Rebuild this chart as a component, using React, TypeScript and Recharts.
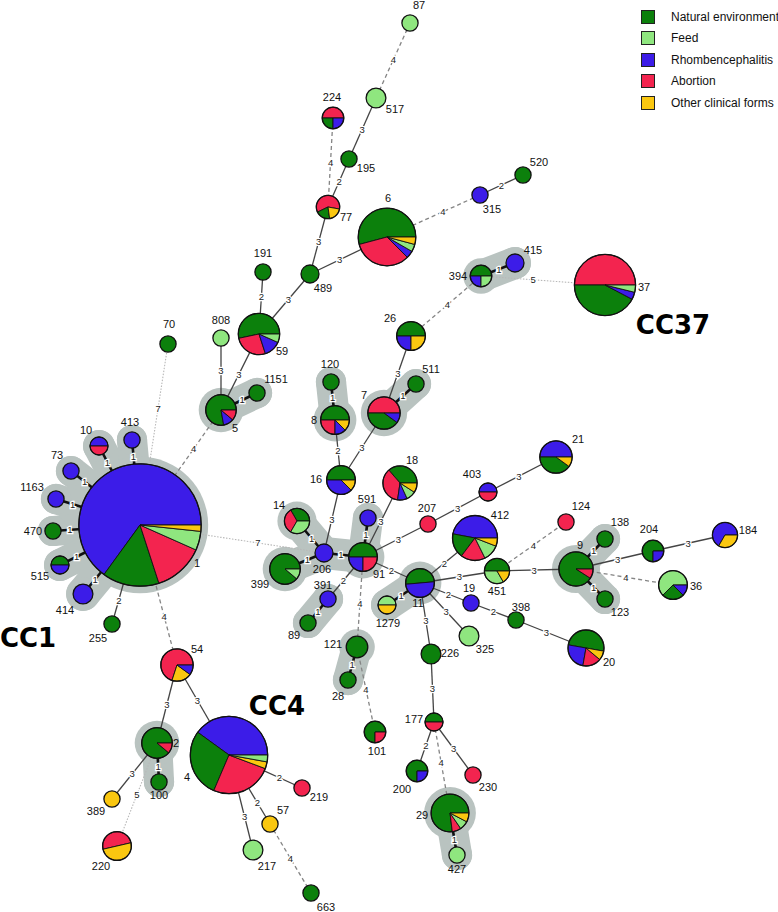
import React from 'react';
import { ScatterChart, Scatter, XAxis, YAxis, Sector, Legend } from 'recharts';

const W = 778;
const H = 912;
const FONT = "'Liberation Sans', Arial, sans-serif";

// categories of isolate origin
const CATEGORY_KEYS = ['G', 'F', 'B', 'R', 'Y'];
const CATEGORY_NAMES = ['Natural environment', 'Feed', 'Rhombencephalitis', 'Abortion', 'Other clinical forms'];

// sequence types: id, layout x, layout y, isolates per category (slice order)
const NODES: [string, number, number, string][] = [
  ['87', 410, 23, 'F1'],
  ['517', 376, 98, 'F3'],
  ['224', 333, 118, 'R2 G1 B1'],
  ['195', 349, 159, 'G1'],
  ['77', 328, 207, 'R3 G1 Y1'],
  ['315', 480, 195, 'B1'],
  ['520', 523, 175, 'G1'],
  ['6', 387, 237, 'G13 R8 B1 F1 Y1'],
  ['489', 310, 274, 'G2'],
  ['191', 263, 272, 'G1'],
  ['59', 259, 334, 'G8 R4 B2 F1'],
  ['808', 221, 338, 'F1'],
  ['70', 168, 344, 'G1'],
  ['5', 221, 410, 'G7 B1 R1'],
  ['1151', 257, 393, 'G1'],
  ['10', 99, 446, 'B1 R1'],
  ['413', 132, 440, 'B1'],
  ['73', 71, 471, 'B1'],
  ['1163', 56, 499, 'B1'],
  ['470', 53, 531, 'G1'],
  ['515', 60, 565, 'G1 B1'],
  ['414', 83, 594, 'B3'],
  ['1', 140, 525, 'B39 G9 R8 F3 Y1'],
  ['255', 112, 624, 'G1'],
  ['54', 177, 665, 'R7 Y2 B1'],
  ['4', 229, 755, 'B14 G10 R9 Y1 F1'],
  ['2', 157, 743, 'G8 R1'],
  ['100', 159, 782, 'G1'],
  ['389', 112, 799, 'Y1'],
  ['220', 117, 846, 'R4 Y4'],
  ['217', 253, 850, 'F3'],
  ['57', 270, 824, 'Y1'],
  ['219', 302, 788, 'R1'],
  ['663', 311, 893, 'G1'],
  ['101', 375, 732, 'G3 R1'],
  ['177', 434, 722, 'G1 R1'],
  ['200', 417, 771, 'G3 B1'],
  ['230', 473, 775, 'R1'],
  ['29', 450, 813, 'G10 R1 F1 Y1'],
  ['427', 457, 855, 'F1'],
  ['28', 348, 680, 'G1'],
  ['121', 357, 647, 'G4'],
  ['16', 341, 480, 'G4 B3 Y1'],
  ['18', 400, 483, 'G4 R4 B1 F1 Y1'],
  ['14', 297, 521, 'G2 R2 F2'],
  ['206', 324, 553, 'B2'],
  ['399', 285, 569, 'G8 F1'],
  ['591', 368, 518, 'B1'],
  ['91', 363, 557, 'G4 B2 R2'],
  ['207', 428, 524, 'R1'],
  ['403', 488, 492, 'B1 R1'],
  ['412', 475, 538, 'B8 G3 R3 F2 Y1'],
  ['391', 328, 599, 'B1'],
  ['89', 308, 623, 'G1'],
  ['11', 420, 583, 'G4 B4'],
  ['1279', 387, 605, 'F1 Y1'],
  ['451', 497, 571, 'G3 F2 Y1'],
  ['19', 471, 603, 'B1'],
  ['325', 469, 636, 'F3'],
  ['226', 431, 654, 'G3'],
  ['398', 516, 620, 'G1'],
  ['21', 556, 457, 'B5 G4 Y1'],
  ['124', 566, 522, 'R1'],
  ['138', 605, 539, 'G1'],
  ['9', 576, 569, 'G10 R1'],
  ['123', 605, 599, 'G1'],
  ['204', 653, 551, 'G3 B1'],
  ['184', 725, 535, 'B4 Y2'],
  ['36', 673, 585, 'F5 G2 B1'],
  ['20', 586, 648, 'G6 B3 R2 Y1'],
  ['26', 411, 336, 'G4 B2 Y2'],
  ['394', 481, 276, 'G2 B1 F1'],
  ['415', 515, 263, 'B2'],
  ['37', 605, 285, 'R13 G11 B1 F1'],
  ['7', 384, 413, 'R5 G4 B1'],
  ['511', 416, 384, 'G1'],
  ['120', 331, 382, 'G1'],
  ['8', 335, 420, 'G4 R2 B1 Y1'],
];

// minimum spanning tree links: from, to, allele distance
const EDGES: [string, string, number][] = [
  ['87', '517', 4], ['517', '195', 3], ['195', '77', 2], ['224', '77', 4], ['77', '489', 3],
  ['489', '6', 3], ['6', '315', 4], ['315', '520', 2], ['489', '59', 3], ['191', '59', 2],
  ['59', '5', 3], ['808', '5', 3], ['5', '1151', 1], ['5', '1', 4], ['70', '1', 7],
  ['1', '10', 1], ['1', '413', 1], ['1', '73', 1], ['1', '1163', 1], ['1', '470', 1],
  ['1', '515', 1], ['1', '414', 1], ['1', '255', 2], ['1', '54', 4], ['1', '206', 7],
  ['54', '2', 3], ['54', '4', 3], ['2', '100', 1], ['2', '389', 3], ['2', '220', 5],
  ['4', '219', 2], ['4', '57', 2], ['4', '217', 3], ['57', '663', 4],
  ['206', '14', 1], ['206', '399', 1], ['206', '91', 1], ['206', '16', 3],
  ['16', '8', 2], ['8', '120', 1], ['16', '7', 3], ['7', '511', 1], ['7', '26', 3],
  ['26', '394', 4], ['394', '415', 1], ['394', '37', 5],
  ['91', '591', 1], ['91', '18', 3], ['91', '207', 3], ['207', '403', 3], ['403', '21', 3],
  ['91', '391', 2], ['391', '89', 1], ['91', '121', 4], ['121', '28', 1], ['121', '101', 4],
  ['91', '11', 2], ['11', '412', 2], ['11', '1279', 1], ['11', '451', 3], ['11', '19', 2],
  ['11', '325', 3], ['11', '226', 3], ['226', '177', 3], ['177', '200', 2], ['177', '230', 3],
  ['177', '29', 4], ['29', '427', 1], ['19', '398', 2], ['398', '20', 3],
  ['451', '9', 3], ['451', '124', 4], ['9', '138', 1], ['9', '123', 1], ['9', '204', 3],
  ['204', '184', 3], ['9', '36', 4],
];

const CLUSTERS: [string, number, number][] = [
  ['CC1', 28, 638],
  ['CC4', 277, 706],
  ['CC37', 673, 325],
];

// label placement relative to node centre
const LABEL_OFFSET: Record<string, [number, number]> = {
  '87': [9, -18], '517': [19, 11], '224': [-1, -21], '195': [17, 9], '77': [18, 10],
  '315': [12, 14], '520': [16, -13], '6': [1, -39], '489': [13, 14], '191': [0, -19],
  '59': [23, 17], '808': [0, -18], '70': [1, -20], '5': [14, 18], '1151': [19, -14],
  '10': [-13, -16], '413': [-2, -18], '73': [-14, -16], '1163': [-24, -12], '470': [-20, 0],
  '515': [-20, 11], '414': [-18, 16], '1': [57, 38], '255': [-14, 14], '54': [20, -16],
  '4': [-42, 22], '2': [19, 0], '100': [0, 13], '389': [-16, 12], '220': [-16, 20],
  '217': [14, 16], '57': [13, -14], '219': [17, 9], '663': [15, 14], '101': [2, 19],
  '177': [-20, -3], '200': [-15, 18], '230': [15, 12], '29': [-28, 2], '427': [0, 14],
  '28': [-10, 16], '121': [-24, -3], '16': [-25, -1], '18': [12, -23], '14': [-18, -16],
  '206': [-2, 16], '399': [-25, 15], '591': [-1, -19], '91': [16, 17], '207': [-1, -16],
  '403': [-16, -18], '412': [25, -23], '391': [-5, -14], '89': [-14, 12], '11': [-2, 20],
  '1279': [1, 18], '451': [0, 20], '19': [-2, -15], '325': [16, 13], '226': [19, -1],
  '398': [5, -13], '21': [22, -18], '124': [15, -16], '138': [15, -17], '9': [4, -24],
  '123': [15, 13], '204': [-4, -22], '184': [23, -5], '36': [23, 1], '20': [23, 14],
  '26': [-21, -18], '394': [-23, 0], '415': [18, -13], '37': [39, 2], '7': [-20, -18],
  '511': [15, -15], '120': [-1, -18], '8': [-21, 0],
};

const ROTATION: Record<string, number> = { '77': -10, '220': 13, '11': 5, '20': -10 };

const COLOR: Record<string, string> = {
  G: '#0c800c',
  F: '#8fe67f',
  B: '#3c1ce8',
  R: '#f3244f',
  Y: '#fac710',
};
const HULL = '#b9c3c0';
const HULL_PAD = 7;

const radiusOf = (n: number) => 7.2 + 0.9 * n;

const nodes = NODES.map(([id, x, y, comp]) => {
  const parts = comp.split(' ').map((p) => ({ cat: p[0], n: Number(p.slice(1)) }));
  const total = parts.reduce((s, p) => s + p.n, 0);
  return { id, x, y, parts, total, r: radiusOf(total), rot: ROTATION[id] ?? 0 };
});
const byId = new Map(nodes.map((n) => [n.id, n]));

const links = EDGES.map(([a, b, d]) => ({ a: byId.get(a)!, b: byId.get(b)!, d }));
const hullLinks = links.filter((l) => l.d === 1);
const hullMembers = Array.from(new Set(hullLinks.flatMap((l) => [l.a, l.b])));

const edgeLabels = links.map((l) => {
  const dx = l.b.x - l.a.x;
  const dy = l.b.y - l.a.y;
  const len = Math.sqrt(dx * dx + dy * dy);
  const t = (l.a.r + (len - l.a.r - l.b.r) / 2) / len;
  return { x: l.a.x + dx * t, y: l.a.y + dy * t, text: String(l.d) };
});

const nodeLabels = nodes.map((n) => {
  const [dx, dy] = LABEL_OFFSET[n.id] ?? [0, -16];
  return { x: n.x + dx, y: n.y + dy, text: n.id };
});

const clusterLabels = CLUSTERS.map(([text, x, y]) => ({ x, y, text }));

function edgeStyle(d: number) {
  if (d === 1) return { stroke: '#111', strokeWidth: 2.6 };
  if (d <= 3) return { stroke: '#444', strokeWidth: 1.3 };
  if (d === 4) return { stroke: '#858585', strokeWidth: 1.3, strokeDasharray: '4 3' };
  return { stroke: '#b8b8b8', strokeWidth: 1.1, strokeDasharray: '1.5 1.5' };
}

const Empty = () => <g />;

const HullDot = (props: any) => {
  const { cx, cy, payload } = props;
  return <circle cx={cx} cy={cy} r={payload.r + HULL_PAD} fill={HULL} />;
};

const PieNode = (props: any) => {
  const { cx, cy, payload } = props;
  const { parts, total, r, rot } = payload;
  if (parts.length === 1) {
    return <circle cx={cx} cy={cy} r={r} fill={COLOR[parts[0].cat]} stroke="#111" strokeWidth={1.3} />;
  }
  let a = rot;
  return (
    <g>
      {parts.map((p: any, i: number) => {
        const s = a;
        const e = a + (360 * p.n) / total;
        a = e;
        return (
          <Sector
            key={i}
            cx={cx}
            cy={cy}
            innerRadius={0}
            outerRadius={r}
            startAngle={s}
            endAngle={e}
            fill={COLOR[p.cat]}
            stroke="#111"
            strokeWidth={0.9}
          />
        );
      })}
      <circle cx={cx} cy={cy} r={r} fill="none" stroke="#111" strokeWidth={1.3} />
    </g>
  );
};

const NodeLabel = (props: any) => (
  <text
    x={props.cx}
    y={props.cy}
    textAnchor="middle"
    dominantBaseline="central"
    fontFamily={FONT}
    fontSize={11}
    fill="#111"
  >
    {props.payload.text}
  </text>
);

const EdgeLabel = (props: any) => (
  <text
    x={props.cx}
    y={props.cy}
    textAnchor="middle"
    dominantBaseline="central"
    fontFamily={FONT}
    fontSize={9.5}
    fill="#222"
    stroke="#fff"
    strokeWidth={2.5}
    paintOrder="stroke"
  >
    {props.payload.text}
  </text>
);

const ClusterLabel = (props: any) => (
  <text
    x={props.cx}
    y={props.cy}
    textAnchor="middle"
    dominantBaseline="central"
    fontFamily="'DejaVu Sans', Verdana, sans-serif"
    fontWeight="bold"
    fontSize={26}
    fill="#000"
  >
    {props.payload.text}
  </text>
);

const LegendBox = () => (
  <div style={{ fontFamily: FONT, fontSize: 12, color: '#111', whiteSpace: 'nowrap' }}>
    {CATEGORY_KEYS.map((k, i) => (
      <div key={k} style={{ display: 'flex', alignItems: 'center', height: 21.5 }}>
        <span
          style={{
            display: 'inline-block',
            width: 14,
            height: 14,
            boxSizing: 'border-box',
            background: COLOR[k],
            border: '1.3px solid #222',
            marginRight: 16,
          }}
        />
        <span>{CATEGORY_NAMES[i]}</span>
      </div>
    ))}
  </div>
);

export default function App() {
  return (
    <div style={{ position: 'absolute', left: 0, top: 0, width: W, height: H, background: '#fff' }}>
      <ScatterChart width={W} height={H} margin={{ top: 0, right: 0, bottom: 0, left: 0 }}>
        <XAxis type="number" dataKey="x" domain={[0, W]} allowDataOverflow hide />
        <YAxis type="number" dataKey="y" domain={[0, H]} allowDataOverflow reversed hide />
        <Legend
          layout="vertical"
          align="center"
          verticalAlign="middle"
          wrapperStyle={{ left: 641, top: 6, width: 140 }}
          content={() => <LegendBox />}
        />
        {hullLinks.map((l, i) => (
          <Scatter
            key={`h${i}`}
            data={[{ x: l.a.x, y: l.a.y }, { x: l.b.x, y: l.b.y }]}
            line={{
              stroke: HULL,
              strokeWidth: 2 * (Math.min(l.a.r, l.b.r) + HULL_PAD),
              strokeLinecap: 'round',
            }}
            lineType="joint"
            shape={Empty}
            isAnimationActive={false}
          />
        ))}
        <Scatter data={hullMembers} shape={HullDot} isAnimationActive={false} />
        {links.map((l, i) => (
          <Scatter
            key={`e${i}`}
            data={[{ x: l.a.x, y: l.a.y }, { x: l.b.x, y: l.b.y }]}
            line={edgeStyle(l.d)}
            lineType="joint"
            shape={Empty}
            isAnimationActive={false}
          />
        ))}
        <Scatter data={nodes} shape={PieNode} isAnimationActive={false} />
        <Scatter data={edgeLabels} shape={EdgeLabel} isAnimationActive={false} />
        <Scatter data={nodeLabels} shape={NodeLabel} isAnimationActive={false} />
        <Scatter data={clusterLabels} shape={ClusterLabel} isAnimationActive={false} />
      </ScatterChart>
    </div>
  );
}
